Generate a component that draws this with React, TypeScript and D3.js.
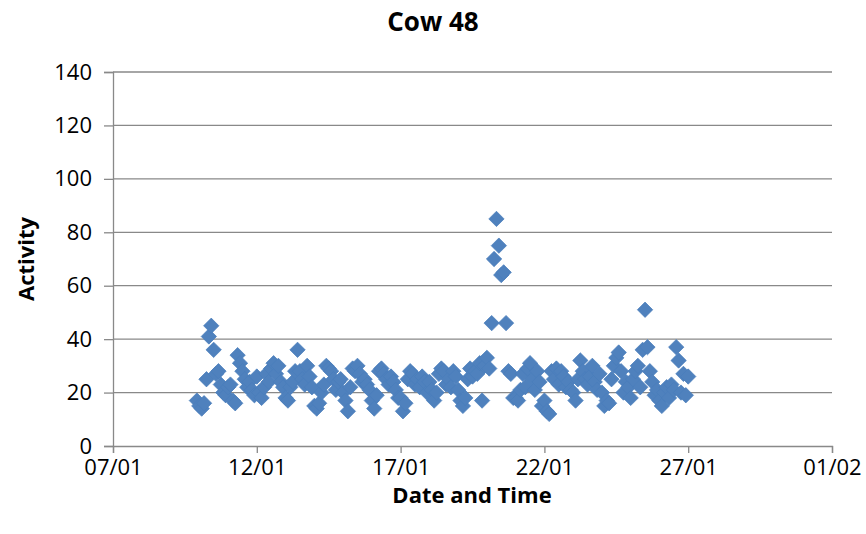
import React, { useEffect, useRef } from "react";
import * as d3 from "d3";

// Tick labels and axis setup
const yTicks = [0, 20, 40, 60, 80, 100, 120, 140];
const xTickDates = ["2013-01-07", "2013-01-12", "2013-01-17", "2013-01-22", "2013-01-27", "2013-02-01"];
const readingHours = [0, 2, 4, 6, 8, 10, 12, 14, 16, 18, 20, 22];

// Activity readings per day (2-hourly)
const jan09 = { date: "2013-01-09", hours: [22], values: [17] };
const jan10 = [15, 14, 16, 25, 41, 45, 36, 27, 28, 23, 20, 19];
const jan11 = [22, 23, 17, 16, 34, 31, 28, 25, 22, 24, 21, 19];
const jan12 = [26, 20, 18, 22, 27, 24, 29, 31, 27, 30, 24, 22];
const jan13 = [18, 17, 22, 24, 28, 36, 28, 25, 23, 30, 26, 22];
const jan14 = [15, 14, 16, 20, 23, 30, 29, 28, 25, 21, 24, 25];
const jan15 = [20, 17, 13, 22, 29, 28, 30, 27, 24, 25, 23, 21];
const jan16 = [17, 14, 19, 28, 29, 27, 25, 23, 26, 24, 21, 18];
const jan17 = [18, 13, 16, 25, 28, 27, 23, 25, 22, 26, 24, 20];
const jan18 = [24, 21, 17, 20, 27, 29, 28, 23, 25, 22, 28, 26];
const jan19 = [21, 17, 15, 18, 25, 29, 26, 28, 27, 31, 17, 30];
const jan20 = [33, 29, 46, 70, 85, 75, 64, 65, 46, 28, 27, 18];
const jan21 = [18, 17, 21, 27, 22, 29, 31, 25, 21, 28, 24, 15];
const jan22 = [17, 13, 12, 28, 25, 29, 23, 28, 26, 22, 24, 21];
const jan23 = [20, 17, 25, 32, 28, 25, 23, 26, 30, 24, 21, 27];
const jan24 = [20, 15, 17, 16, 25, 30, 33, 35, 28, 20, 24, 22];
const jan25 = [18, 25, 28, 30, 22, 36, 51, 37, 28, 24, 19, 21];
const jan26 = [17, 15, 20, 22, 18, 23, 21, 37, 32, 20, 27, 19];
const jan27 = { date: "2013-01-27", hours: [0], values: [26] };

const fullDays: [string, number[]][] = [
  ["2013-01-10", jan10], ["2013-01-11", jan11], ["2013-01-12", jan12], ["2013-01-13", jan13],
  ["2013-01-14", jan14], ["2013-01-15", jan15], ["2013-01-16", jan16], ["2013-01-17", jan17],
  ["2013-01-18", jan18], ["2013-01-19", jan19], ["2013-01-20", jan20], ["2013-01-21", jan21],
  ["2013-01-22", jan22], ["2013-01-23", jan23], ["2013-01-24", jan24], ["2013-01-25", jan25],
  ["2013-01-26", jan26],
];

const parseDay = d3.timeParse("%Y-%m-%d");

function buildPoints() {
  const pts: { t: Date; v: number }[] = [];
  const add = (date: string, hours: number[], values: number[]) => {
    const base = parseDay(date)!;
    values.forEach((v, i) => pts.push({ t: d3.timeHour.offset(base, hours[i]), v }));
  };
  add(jan09.date, jan09.hours, jan09.values);
  fullDays.forEach(([d, vals]) => add(d, readingHours, vals));
  add(jan27.date, jan27.hours, jan27.values);
  return pts;
}

const W = 866, H = 534;
const M = { left: 113, right: 34, top: 72, bottom: 88 };
const FONT = "'Open Sans', 'Noto Sans', sans-serif";

export default function App() {
  const ref = useRef<SVGSVGElement>(null);
  useEffect(() => {
    const svg = d3.select(ref.current);
    svg.selectAll("*").remove();
    const pts = buildPoints();
    const xDates = xTickDates.map((d) => parseDay(d)!);
    const x = d3.scaleTime().domain([xDates[0], xDates[xDates.length - 1]]).range([M.left, W - M.right]);
    const y = d3.scaleLinear().domain([0, 140]).range([H - M.bottom, M.top]);
    const grid = "#898989";

    svg.append("rect").attr("width", W).attr("height", H).attr("fill", "#fff");

    // gridlines
    svg.append("g").selectAll("line").data(yTicks.slice(1)).join("line")
      .attr("x1", M.left).attr("x2", W - M.right)
      .attr("y1", (d) => y(d)).attr("y2", (d) => y(d))
      .attr("stroke", grid).attr("stroke-width", 1.3);

    // y axis
    const ya = svg.append("g").attr("transform", `translate(${M.left},0)`)
      .call(d3.axisLeft(y).tickValues(yTicks).tickSize(9).tickPadding(12).tickFormat(d3.format("d")));
    ya.select(".domain").attr("stroke", grid).attr("stroke-width", 1.3);
    ya.selectAll(".tick line").attr("stroke", grid).attr("stroke-width", 1.3);
    ya.selectAll(".tick text").attr("font-family", FONT).attr("font-size", 22).attr("fill", "#000");

    // x axis
    const xa = svg.append("g").attr("transform", `translate(0,${H - M.bottom})`)
      .call(d3.axisBottom(x).tickValues(xDates).tickSize(7).tickPadding(6).tickFormat(d3.timeFormat("%d/%m") as any));
    xa.select(".domain").attr("stroke", grid).attr("stroke-width", 1.3);
    xa.selectAll(".tick line").attr("stroke", grid).attr("stroke-width", 1.3);
    xa.selectAll(".tick text").attr("font-family", FONT).attr("font-size", 22).attr("fill", "#000");

    // points
    const diamond = d3.symbol().type(d3.symbolDiamond2).size(150);
    svg.append("g").selectAll("path").data(pts).join("path")
      .attr("d", diamond)
      .attr("transform", (d) => `translate(${x(d.t)},${y(d.v)})`)
      .attr("fill", "#4F81BD").attr("stroke", "#4A7EBB").attr("stroke-width", 0.75);

    // titles
    svg.append("text").attr("x", 433).attr("y", 31).attr("text-anchor", "middle")
      .attr("font-family", FONT).attr("font-weight", "bold").attr("font-size", 26).text("Cow 48");
    svg.append("text").attr("x", 472).attr("y", 503).attr("text-anchor", "middle")
      .attr("font-family", FONT).attr("font-weight", "bold").attr("font-size", 22).text("Date and Time");
    svg.append("text").attr("transform", `translate(34,${(M.top + H - M.bottom) / 2}) rotate(-90)`)
      .attr("text-anchor", "middle").attr("font-family", FONT).attr("font-weight", "bold")
      .attr("font-size", 22).text("Activity");
  }, []);
  return <svg ref={ref} width={W} height={H} style={{ display: "block", position: "absolute", left: 0, top: 0 }} />;
}
